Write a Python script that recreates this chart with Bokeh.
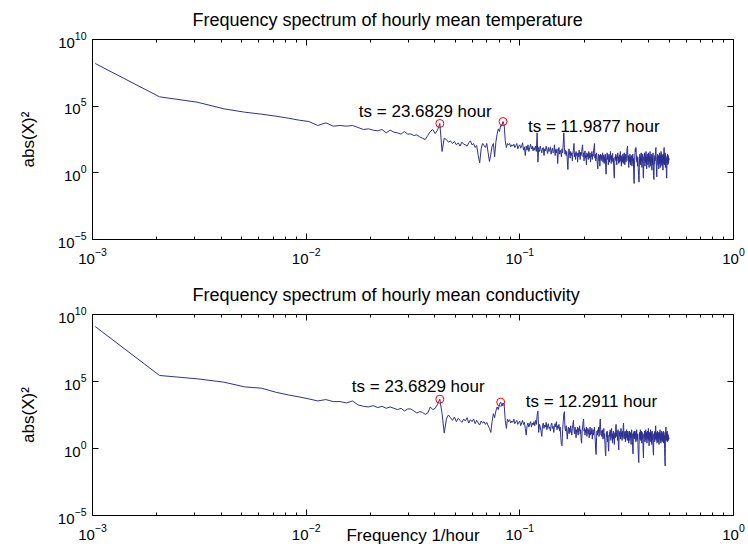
import math
from bokeh.plotting import figure
from bokeh.layouts import column
from bokeh.models import Range1d, FixedTicker, LogAxis, Label, Title, CustomJSTickFormatter
from bokeh.embed import file_html
from bokeh.resources import INLINE

# ---------------- data ----------------
RECORD_HOURS = 971          # length of the hourly record -> frequency bin = k / 971 (1/hour)

# log10 of |X|^2 for harmonics k = 1 .. 485, hourly mean temperature
temp_log_power = [
    8.2, 5.7, 5.3, 4.8, 4.55, 4.4, 4.25, 4.1, 3.95, 3.85,
    3.55, 3.75, 3.5, 3.55, 3.5, 3.55, 3.4, 3.25, 3.3, 3.2,
    3.15, 3.25, 3.0, 3.2, 3.05, 3.0, 2.9, 3.1, 2.9, 2.92,
    2.8, 2.85, 2.7, 2.6, 2.5, 2.8, 3.1, 3.25, 2.95, 3.2,
    3.7, 1.6, 2.6, 2.5, 2.3, 2.4, 2.2, 2.35, 2.1, 2.25,
    2.0, 2.3, 2.15, 2.1, 2.0, 2.25, 2.4, 2.1, 2.2, 1.9,
    2.05, 1.3, 0.75, 1.8, 2.2, 2.05, 1.9, 2.2, 1.5, 0.85,
    1.4, 2.0, 2.2, 1.2, 2.3, 2.9, 3.3, 3.1, 3.55, 3.5,
    3.85, 3.6, 2.4, 1.9, 2.2, 2.1, 2.2, 1.95, 2.1, 2.0,
    2.15, 1.9, 2.05, 2.2, 1.8, 2.0, 2.1, 1.85, 2.0, 2.25,
    1.7, 1.95, 1.3, 2.0, 1.7, 2.1, 1.6, 1.9, 2.15, 1.8,
    2.0, 1.65, 1.9, 1.7, 2.0, 1.6, 3.0, 0.8, 1.9, 1.6,
    2.0, 1.75, 1.5, 1.85, 1.9, 1.3, 1.8, 1.65, 2.0, 1.7,
    1.45, 1.9, 1.6, 1.75, 1.95, 1.4, 1.7, 1.85, 1.5, 1.6,
    2.1, 1.3, 1.75, 1.5, 1.8, 0.7, 1.6, 1.9, 1.4, 1.7,
    1.55, 1.2, 1.8, 1.5, 2.2, 3.0, 1.9, 1.4, 1.7, 1.3,
    1.6, 0.9, 0.25, 1.5, 1.8, 1.4, 1.1, 1.6, 1.3, 1.5,
    0.9, 1.4, 1.7, 2.2, 1.2, 1.5, 1.0, 1.6, 1.3, 1.45,
    0.8, 1.5, 1.2, 1.7, 1.35, 1.0, 1.55, 1.3, 1.6, 1.9,
    2.1, 1.2, 1.5, 0.9, 1.4, 1.65, 1.1, 1.3, 0.6, 1.5,
    1.2, 1.4, 1.0, 1.6, 1.3, 1.1, 1.5, 0.8, 1.35, 1.2,
    1.6, 1.0, 1.4, 1.25, 1.7, 1.9, 2.2, 1.1, 1.4, 0.9,
    1.3, 1.5, 1.0, 0.6, 0.3, 1.2, 1.4, 0.9, 1.3, 0.5,
    1.1, 1.4, 1.0, 1.3, 0.9, 1.2, 1.5, 0.8, 1.1, 1.35,
    0.7, 1.2, 1.0, 1.4, 0.4, -0.1, 0.9, 1.2, 1.5, 1.0,
    1.3, 0.6, 1.1, 1.4, 0.8, 1.2, 1.0, 1.6, 1.1, 0.7,
    1.3, 0.9, 1.2, 1.45, 0.8, 1.1, 0.5, -0.2, -0.4, 0.8,
    1.2, 1.0, 1.4, 0.9, 1.2, 0.6, 1.3, 1.1, 1.5, 0.9,
    1.2, 0.7, 1.0, 1.35, 0.8, 1.1, 1.6, 0.9, 1.2, 0.5,
    1.0, 1.3, 0.8, 1.1, 1.4, 0.7, 1.2, 0.9, 1.5, 1.0,
    0.6, 1.2, 1.0, 1.4, 0.8, 1.1, 1.3, 1.7, 1.9, 2.0,
    1.1, 0.9, 1.3, 0.4, 1.0, 1.2, 0.8, 1.4, 1.1, 0.6,
    1.2, 0.9, 1.3, 1.0, 0.5, 1.2, 0.9, 1.4, 0.7, 1.1,
    0.2, -0.5, -0.8, 0.6, 1.2, 1.5, 1.8, 1.6, 1.9, 1.7,
    1.0, 1.3, 0.8, 1.1, 0.5, 1.2, 0.9, 0.3, -0.2, -0.6,
    -0.7, 0.4, 1.1, 1.4, 0.8, 1.2, 0.6, 1.0, 1.5, 0.9,
    1.3, 0.4, 1.1, 0.8, 1.4, 1.0, -0.3, -0.4, 0.7, 1.2,
    0.9, 1.5, 1.0, 0.5, 1.3, 0.8, 1.1, 1.6, 0.7, 1.2,
    0.3, 1.0, 1.4, 0.9, 1.2, 0.6, 1.1, 1.5, 0.8, 1.0,
    0.4, 1.3, 0.9, 1.1, 1.6, 0.7, 1.2, 0.5, 1.0, 1.4,
    0.8, 1.1, 0.2, 0.9, 1.3, 0.6, 1.0, 1.5, 0.8, -0.2,
    -0.4, -0.5, 0.5, 1.1, 0.7, 1.3, 0.9, 1.2, 1.6, 1.8,
    1.9, 1.0, 0.5, -0.2, -0.3, 0.8, 1.2, 0.9, 1.4, 0.6,
    1.1, 0.8, 1.3, 0.3, 1.0, 1.2, 0.7, 1.5, 0.9, 1.1,
    0.4, 1.3, 0.8, 1.0, 1.6, 0.6, 1.2, 0.9, 1.4, 0.5,
    1.1, 0.8, 1.3, 0.2, 1.0, 1.4, 0.7, 1.2, 1.8, 1.9,
    1.0, 0.6, 1.2, 0.9, 1.5, 0.4, 1.0, 1.3, 0.8, 1.1,
    0.0, -0.3, -0.4, 0.7, 1.2, 0.9, 1.4, 0.6, 1.1, 0.8,
    1.3, 0.7, 1.0, 1.1, 0.95,
]

# log10 of |X|^2 for harmonics k = 1 .. 485, hourly mean conductivity
cond_log_power = [
    9.1, 5.45, 5.2, 4.95, 4.6, 4.5, 4.2, 4.0, 3.85, 3.7,
    3.55, 3.65, 3.5, 3.5, 3.4, 3.55, 3.25, 3.15, 3.1, 3.2,
    3.05, 3.15, 3.0, 3.1, 3.0, 2.9, 3.0, 2.8, 2.95, 2.95,
    2.8, 2.65, 2.75, 2.7, 2.55, 2.65, 3.1, 2.9, 3.0, 3.3,
    3.68, 2.6, 1.15, 2.2, 2.5, 2.3, 2.1, 2.35, 2.0, 2.25,
    2.1, 1.95, 2.2, 2.05, 2.3, 1.9, 2.15, 2.0, 2.2, 1.85,
    2.1, 1.9, 1.75, 2.05, 1.9, 2.0, 1.8, 1.95, 1.7, 1.5,
    1.2, 2.0, 2.6, 2.3, 2.8, 3.1, 2.9, 3.3, 3.46, 3.2,
    3.4, 3.3, 2.1, 1.5, 2.2, 2.0, 2.15, 1.9, 2.05, 1.95,
    2.2, 1.85, 2.0, 2.1, 1.8, 1.95, 2.05, 1.7, 1.9, 2.1,
    1.8, 1.95, 1.5, 1.0, 1.7, 1.9, 1.6, 1.85, 2.0, 1.6,
    1.9, 1.75, 2.0, 1.7, 2.1, 1.8, 2.5, 2.8, 1.2, 1.8,
    1.6, 1.3, 0.9, 1.7, 1.9, 1.5, 1.75, 1.6, 1.95, 1.4,
    1.7, 1.85, 1.5, 1.6, 1.3, 1.75, 1.9, 1.5, 1.65, 1.2,
    1.7, 1.85, 1.6, 2.0, 1.4, 1.7, 1.5, 1.8, 1.3, 1.6,
    0.8, 0.3, 0.2, 1.4, 2.0, 2.6, 2.75, 1.5, 1.3, 1.7,
    1.2, 0.7, 1.4, 1.6, 1.1, 1.5, 1.2, 1.7, 1.3, 1.0,
    1.5, 1.8, 2.1, 1.4, 1.1, 1.6, 1.3, 0.8, 1.4, 1.2,
    1.6, 1.0, 1.5, 1.3, 1.7, 1.1, 1.4, 0.6, 0.4, 1.3,
    1.6, 2.0, 2.2, 1.3, 1.5, 1.0, 1.4, 1.2, 1.6, 0.9,
    1.3, 1.5, 1.1, 1.4, 0.8, 1.2, 1.6, 1.0, 1.3, 1.1,
    1.5, 0.7, 1.2, 1.4, 1.0, 1.3, 1.6, 1.1, 0.5, -0.2,
    -0.45, 0.8, 1.3, 1.0, 1.4, 1.2, 1.6, 0.9, 1.3, 1.8,
    2.2, 1.4, 1.0, 1.3, 0.9, 1.4, 1.1, 0.7, 1.2, 1.5,
    0.8, 1.1, 0.3, -0.3, -0.55, 0.6, 1.2, 0.9, 1.3, 0.5,
    1.0, 0.1, -0.2, 0.7, 1.2, 0.9, 1.4, 1.1, 0.6, 1.2,
    1.5, 0.8, 1.1, 0.4, 1.0, 1.3, 0.7, 1.1, 0.3, 0.9,
    1.2, 0.8, 1.6, 1.8, 1.2, 0.9, 1.3, 0.6, 1.0, 1.4,
    0.2, -0.1, 0.8, 1.2, 0.9, 1.3, 0.7, 1.1, 1.5, 0.9,
    1.2, 0.6, 1.0, 1.3, 0.8, 1.7, 1.9, 1.1, 0.7, 1.2,
    0.9, 1.3, 0.5, 1.0, 1.2, 0.8, 1.4, 1.0, 0.6, 1.1,
    1.3, 0.7, 1.0, 0.4, 1.2, 0.9, 1.3, 0.6, 1.1, 0.8,
    1.2, 0.3, 1.0, 1.4, 0.8, 1.1, 0.5, -0.2, -0.4, 0.7,
    1.2, 0.9, 1.3, 0.7, 1.0, 1.3, 0.8, 1.1, 0.5, 1.2,
    0.9, 1.4, 0.6, 1.0, 0.7, 1.1, 0.2, -0.4, -0.9, -1.05,
    0.3, 0.9, 1.2, 0.7, 1.0, 1.4, 0.6, 1.1, 0.8, 1.3,
    0.4, 0.9, 1.2, 0.7, 1.0, 0.3, -0.3, -0.7, 0.5, 1.1,
    0.8, 1.3, 0.9, 0.5, 1.1, 0.8, 1.4, 0.6, 1.0, 0.9,
    1.2, 0.4, 0.9, 1.3, 0.7, 1.1, 0.8, 1.5, 0.6, 1.0,
    0.2, 0.9, 1.2, 0.7, 1.1, 0.9, 1.4, 0.5, 1.0, 0.8,
    1.2, 0.3, 0.9, 1.3, 0.6, 1.0, 0.8, 0.1, -0.3, -0.5,
    0.6, 1.1, 0.8, 1.2, 0.5, 1.0, 1.3, 0.7, 1.6, 1.7,
    1.0, 0.6, 1.1, 0.8, 1.2, 0.4, 0.9, 1.3, 0.7, 1.0,
    0.5, 1.2, 0.8, 1.1, 0.3, 0.9, 1.2, 0.7, 1.0, 1.4,
    0.6, 0.9, 1.1, 0.4, 1.0, 0.8, 1.3, 0.6, 0.9, 1.2,
    0.5, 1.0, 0.7, 1.1, 0.8, 1.3, 0.4, 0.9, 1.2, 0.6,
    1.0, 0.0, -0.6, -1.0, -1.3, 0.4, 1.0, 1.5, 1.6, 0.9,
    1.2, 0.6, 1.0, 0.8, 1.3, 0.5, 0.9, 1.1, 0.7, 1.0,
    0.6, 0.9, 0.8, 0.7, 0.75,
]

temp_peak_harmonics = [41, 81]
cond_peak_harmonics = [41, 79]

panel_titles = [
    "Frequency spectrum of hourly mean temperature",
    "Frequency spectrum of hourly mean conductivity",
]
x_label_text = "Frequency 1/hour"
y_label_text = "abs(X)\u00b2"

x_major_ticks = [1e-3, 1e-2, 1e-1, 1e0]
x_minor_ticks = [m * 10.0 ** e for e in (-3, -2, -1) for m in range(2, 10)]
y_major_ticks = [1e-5, 1e0, 1e5, 1e10]

# ---------------- styling ----------------
FONT = "Liberation Sans"
LINE_COLOR = "#2e3192"
W = 748
LEFT, RIGHT, TOP = 92, 15, 39


def style_axis(ax, ticks, minor, show_labels):
    ax.ticker = FixedTicker(ticks=ticks, minor_ticks=minor)
    ax.axis_line_color = "black"
    ax.axis_line_width = 1
    ax.major_tick_line_color = "black"
    ax.minor_tick_line_color = "black"
    ax.major_tick_in = 6
    ax.major_tick_out = 0
    ax.minor_tick_in = 3
    ax.minor_tick_out = 0
    if show_labels:
        ax.major_label_text_font = FONT
        ax.major_label_text_font_size = "15px"
        ax.major_label_text_color = "black"
        ax.axis_label_text_font = FONT
        ax.axis_label_text_font_size = "17px"
        ax.axis_label_text_font_style = "normal"
        ax.axis_label_text_color = "black"
    else:
        ax.formatter = CustomJSTickFormatter(code="return ''")
        ax.major_label_text_font_size = "1px"
        ax.major_label_standoff = 0


def make_panel(title, log_power, peaks, offsets, frame_h, bottom, show_xlabel):
    harmonic = list(range(1, len(log_power) + 1))
    freq = [k / RECORD_HOURS for k in harmonic]
    power = [10.0 ** v for v in log_power]

    p = figure(width=W, height=TOP + frame_h + bottom,
               x_axis_type="log", y_axis_type="log",
               x_range=Range1d(1e-3, 1.0), y_range=Range1d(1e-5, 1e10),
               output_backend="svg", toolbar_location=None,
               title_location=None,
               min_border_left=LEFT, min_border_right=RIGHT,
               min_border_top=TOP, min_border_bottom=bottom)
    p.xgrid.visible = False
    p.ygrid.visible = False
    p.outline_line_color = "black"
    p.background_fill_color = "white"
    p.border_fill_color = "white"

    xa = p.xaxis[0]
    style_axis(xa, x_major_ticks, x_minor_ticks, True)
    xa.major_label_standoff = 8
    if show_xlabel:
        xa.axis_label = x_label_text
        xa.axis_label_standoff = -17
    ya = p.yaxis[0]
    style_axis(ya, y_major_ticks, [], True)
    ya.major_label_standoff = 6
    ya.axis_label = y_label_text
    ya.axis_label_standoff = 17

    top_ax = LogAxis()
    style_axis(top_ax, x_major_ticks, x_minor_ticks, False)
    p.add_layout(top_ax, "above")
    right_ax = LogAxis()
    style_axis(right_ax, y_major_ticks, [], False)
    p.add_layout(right_ax, "right")

    p.add_layout(Title(text=title, align="left", offset=100, standoff=16,
                       vertical_align="top",
                       text_font=FONT, text_font_size="18px",
                       text_font_style="normal", text_color="black"), "above")

    p.line(freq, power, line_color=LINE_COLOR, line_width=1)

    px = [freq[k - 1] for k in peaks]
    py = [power[k - 1] for k in peaks]
    p.scatter(px, py, marker="circle", size=8, fill_color=None,
              line_color="red", line_width=1)

    for k, (dx, dy) in zip(peaks, offsets):
        p.add_layout(Label(x=freq[k - 1], y=power[k - 1], x_offset=dx, y_offset=dy,
                           text=f"ts = {RECORD_HOURS / k:.4f} hour",
                           text_font=FONT, text_font_size="17px",
                           text_color="black", text_align="left",
                           text_baseline="alphabetic"))
    return p


p_top = make_panel(panel_titles[0], temp_log_power, temp_peak_harmonics,
                   [(-81, 12), (25, -5)], 200, 36, False)
p_bot = make_panel(panel_titles[1], cond_log_power, cond_peak_harmonics,
                   [(-88, 13), (25, 1)], 201, 35, True)

layout = column(p_top, p_bot, spacing=0)
open("out.html", "w").write(file_html(layout, INLINE))
